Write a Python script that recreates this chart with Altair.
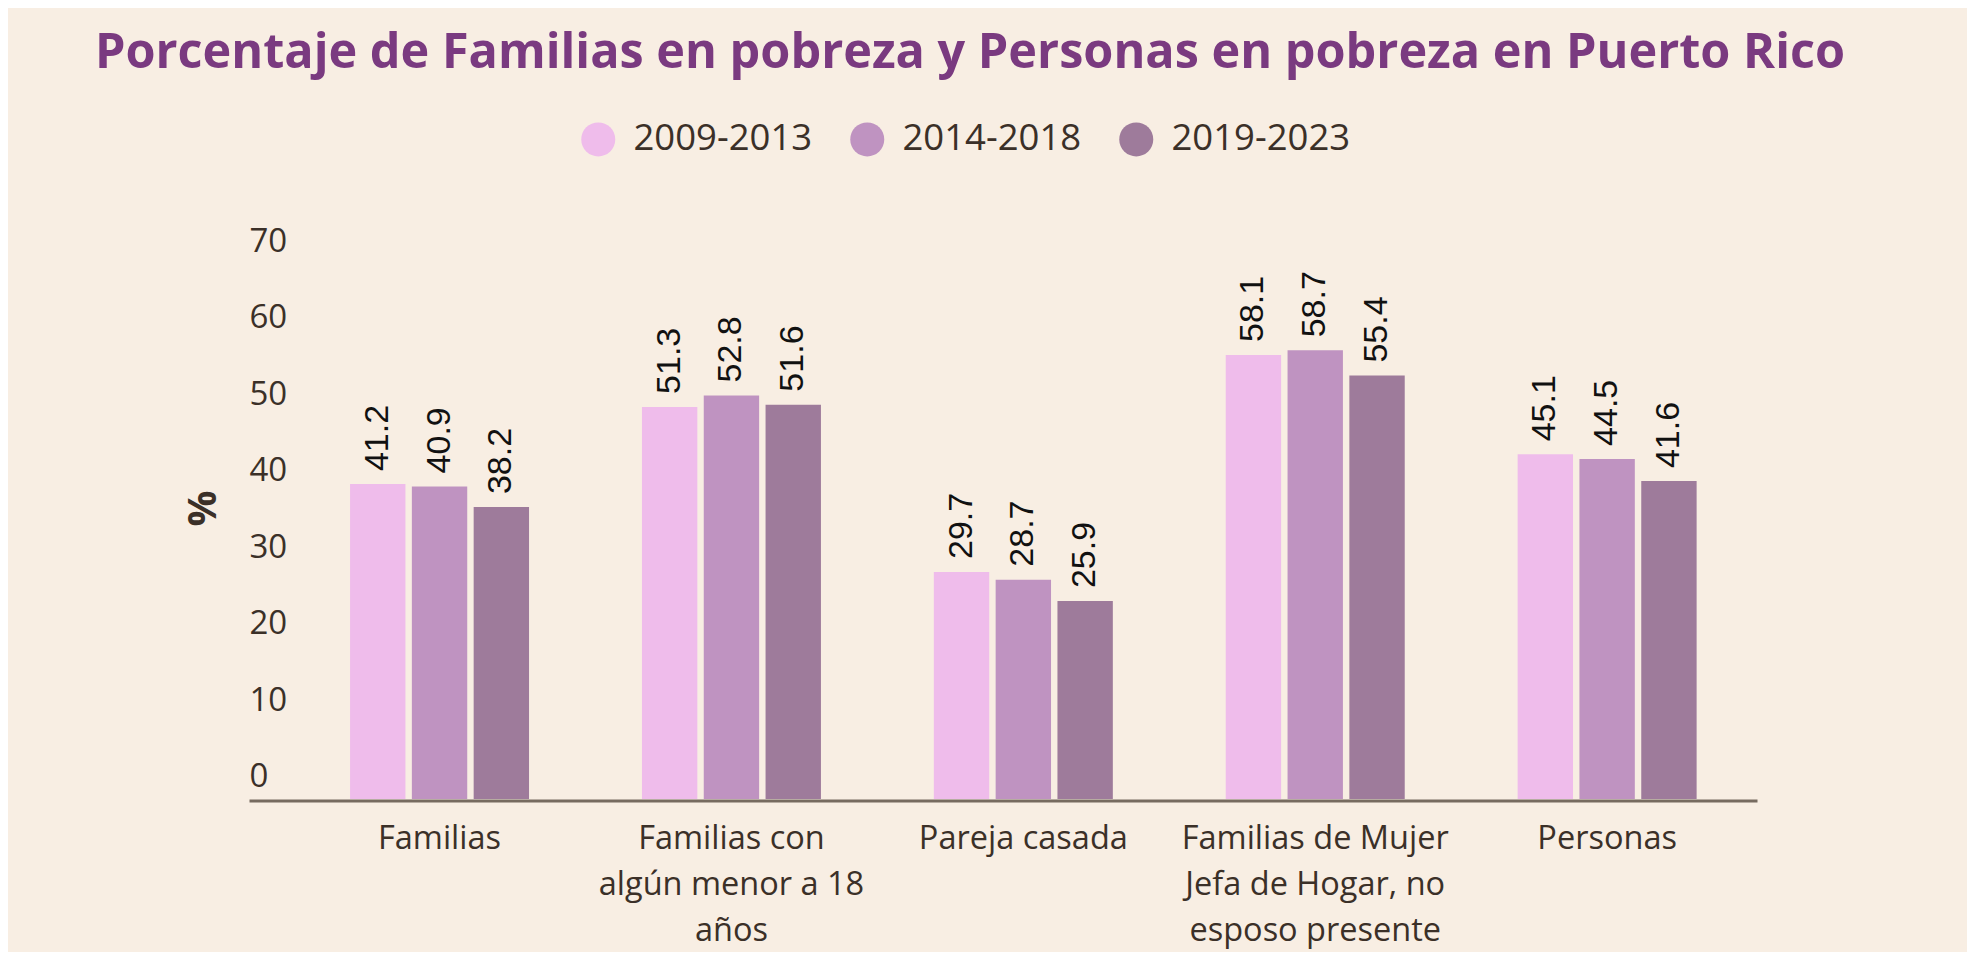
import altair as alt
import pandas as pd

categories = [
    "Familias",
    "Familias con|algún menor a 18|años",
    "Pareja casada",
    "Familias de Mujer|Jefa de Hogar, no|esposo presente",
    "Personas",
]
periods = ["2009-2013", "2014-2018", "2019-2023"]
v_2009_2013 = [41.2, 51.3, 29.7, 58.1, 45.1]
v_2014_2018 = [40.9, 52.8, 28.7, 58.7, 44.5]
v_2019_2023 = [38.2, 51.6, 25.9, 55.4, 41.6]
colors = ["#EFBCEB", "#BF93C1", "#9E7B9B"]
y_ticks = [0, 10, 20, 30, 40, 50, 60, 70]

rows = []
for series, vals in zip(periods, [v_2009_2013, v_2014_2018, v_2019_2023]):
    for c, v in zip(categories, vals):
        rows.append({"cat": c, "period": series, "value": v})
df = pd.DataFrame(rows)

TXT = "#3b3028"
FONT = "Open Sans"

base = alt.Chart(df).encode(
    x=alt.X(
        "cat:N",
        sort=categories,
        scale=alt.Scale(paddingInner=0.3868, paddingOuter=0.2765, align=0.626),
        axis=alt.Axis(
            title=None,
            labelAngle=0,
            labelExpr="split(datum.label, '|')",
            labelFont=FONT,
            labelFontSize=32.5,
            labelLineHeight=46,
            labelColor=TXT,
            labelPadding=22,
            labelLimit=500,
            labelBaseline="top",
            ticks=False,
            domain=True,
            domainColor="#776b60",
            domainWidth=3,
            offset=1.5,
            grid=False,
        ),
    ),
    xOffset=alt.XOffset(
        "period:N", sort=periods, scale=alt.Scale(paddingInner=0.104, paddingOuter=0)
    ),
)

bars = base.mark_bar().encode(
    y=alt.Y(
        "value:Q",
        scale=alt.Scale(domain=[0, 70], nice=False, zero=True),
        axis=alt.Axis(
            values=y_ticks,
            title="%",
            titleFont=FONT,
            titleFontSize=40,
            titleFontWeight="bold",
            titleColor=TXT,
            titleAngle=270,
            titleAlign="center",
            titleBaseline="middle",
            titleX=-46,
            titleY=244,
            labelFont=FONT,
            labelFontSize=33,
            labelColor=TXT,
            labelAlign="left",
            labelBaseline="middle",
            labelPadding=0,
            labelOffset=-22.5,
            labelFlush=False,
            labelOverlap=False,
            ticks=False,
            domain=False,
            grid=False,
        ),
    ),
    color=alt.Color(
        "period:N",
        sort=periods,
        scale=alt.Scale(domain=periods, range=colors),
        legend=alt.Legend(
            title=None,
            orient="none",
            direction="horizontal",
            legendX=331,
            legendY=-143,
            symbolType="circle",
            symbolSize=1156,
            symbolStrokeWidth=0,
            symbolOpacity=1,
            labelFont=FONT,
            labelFontSize=36.5,
            labelColor=TXT,
            labelOffset=17,
            labelLimit=400,
            columnPadding=36,
            padding=0,
        ),
    ),
)

labels = base.mark_text(
    angle=270,
    align="left",
    baseline="middle",
    dx=13,
    font="Liberation Sans",
    fontSize=34,
    color="#111111",
).encode(
    y=alt.Y("value:Q"),
    text=alt.Text("value:Q", format=".1f"),
)

chart = (
    alt.layer(bars, labels)
    .properties(
        width=1508,
        height=535,
        autosize=alt.AutoSizeParams(type="none"),
        padding={"left": 241, "top": 256, "right": 210, "bottom": 153},
        title=alt.TitleParams(
            text="Porcentaje de Familias en pobreza y Personas en pobreza en Puerto Rico",
            font=FONT,
            fontSize=48.6,
            fontWeight="bold",
            color="#7a3a80",
            anchor="middle",
            frame="group",
            dx=-33,
            offset=42,
        ),
    )
    .configure(background="#F8EEE3")
    .configure_view(stroke=None)
)

chart.save("out.html", embed_options={"renderer": "svg", "actions": False})
